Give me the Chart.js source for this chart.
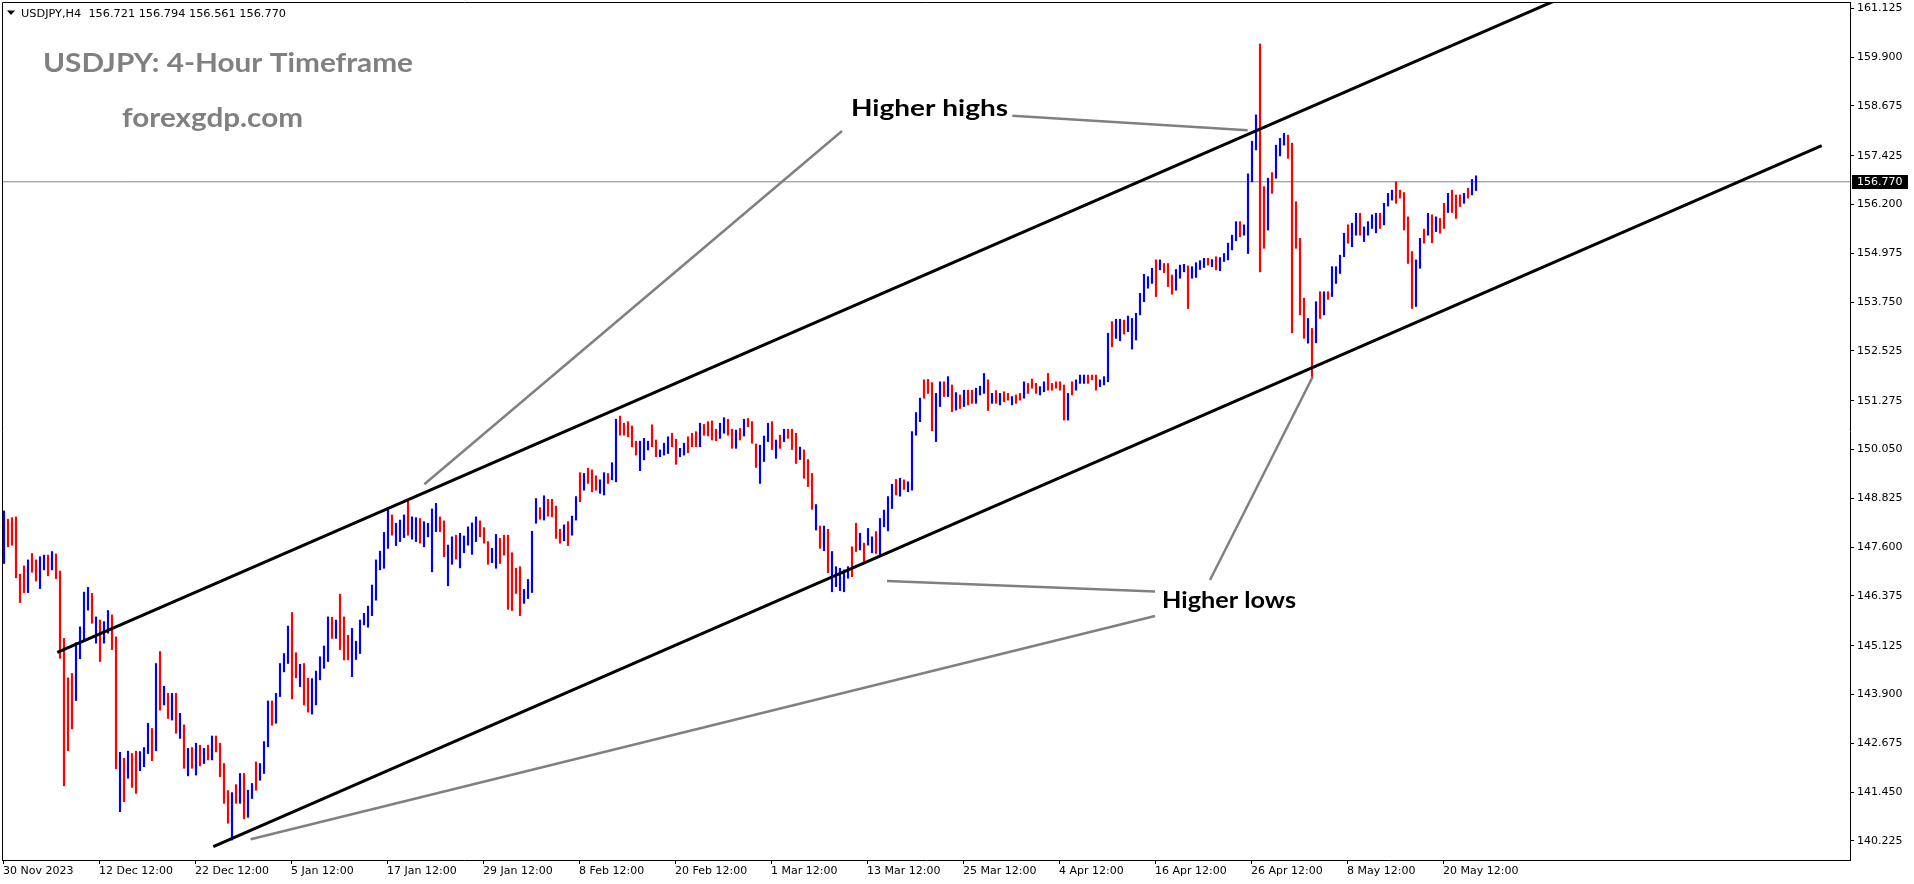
<!DOCTYPE html>
<html><head><meta charset="utf-8">
<script src="https://cdn.jsdelivr.net/npm/chart.js@4.4.1/dist/chart.umd.min.js"></script>
<style>html,body{margin:0;padding:0;background:#fff;overflow:hidden}</style>
</head><body>
<canvas id="c" width="1914" height="884"></canvas>
<script>
// ---------- DATA ----------
const symbol = "USDJPY,H4";
const lastBar = {open:156.721, high:156.794, low:156.561, close:156.770};
const titleText = "USDJPY: 4-Hour Timeframe";
const siteText = "forexgdp.com";
const noteHighs = "Higher highs";
const noteLows = "Higher lows";

// x values are counted in H4 bars from the first bar (30 Nov 2023)
const timeLabels = ["30 Nov 2023","12 Dec 12:00","22 Dec 12:00","5 Jan 12:00","17 Jan 12:00","29 Jan 12:00","8 Feb 12:00","20 Feb 12:00","1 Mar 12:00","13 Mar 12:00","25 Mar 12:00","4 Apr 12:00","16 Apr 12:00","26 Apr 12:00","8 May 12:00","20 May 12:00"];
const timeTickBars = [0,48,96,144,192,240,288,336,384,432,480,528,576,624,672,720];
const priceTicks = [140.225,141.450,142.675,143.900,145.125,146.375,147.600,148.825,150.050,151.275,152.525,153.750,154.975,156.200,157.425,158.675,159.900,161.125];

// one bar per 8 hours (two H4 bars merged): high, low, direction (u = up/blue, d = down/red)
const highs = [
148.51,148.30,148.34,148.36,146.92,147.13,147.28,147.44,147.28,147.36,
147.40,147.40,147.49,147.43,147.00,145.31,144.32,144.43,145.20,145.60,
146.47,146.59,146.44,145.85,145.77,145.73,146.01,145.90,145.35,142.45,
142.30,142.48,142.42,142.48,142.47,142.57,143.18,143.05,144.68,144.98,
144.11,143.93,143.93,143.93,143.43,143.14,142.55,142.57,142.68,142.63,
142.55,142.63,142.86,142.86,142.68,142.17,141.49,141.44,141.64,141.92,
141.92,141.50,141.67,142.21,142.17,142.72,143.74,143.74,143.93,144.68,
144.93,145.62,145.96,144.95,144.66,144.68,144.31,144.30,144.49,144.85,
145.12,145.85,145.84,145.77,146.42,145.85,145.39,145.56,145.24,145.77,
145.94,146.12,
146.65,147.28,147.50,147.97,148.59,148.41,148.20,148.28,
148.41,148.76,148.36,148.34,148.32,148.24,148.20,148.56,148.70,148.36,
148.26,147.65,147.86,147.90,147.95,147.88,148.11,148.21,148.36,148.26,
148.09,147.74,147.57,147.92,147.82,147.90,147.90,147.46,147.07,147.11,
146.54,146.79,148.00,148.82,148.59,148.89,148.80,148.80,148.63,148.05,
148.16,148.24,148.38,148.87,149.47,149.45,149.58,149.54,149.39,149.29,
149.47,149.45,149.72,150.81,150.89,150.71,150.75,150.64,150.26,150.26,
150.33,150.26,150.67,150.29,150.04,150.21,150.37,150.46,150.31,150.08,
150.21,150.37,150.46,150.50,150.71,150.68,150.75,150.77,150.56,150.71,
150.85,150.81,150.56,150.54,150.58,
150.81,150.83,150.75,150.19,150.16,150.39,150.71,150.75,150.29,150.41,
150.56,150.56,150.56,150.46,150.11,150.04,149.80,149.45,148.67,148.13,
148.13,148.05,147.49,147.11,147.07,147.03,147.11,147.61,148.20,147.95,
147.70,148.07,147.86,147.99,148.32,148.53,148.87,149.18,149.30,149.33,
149.29,149.24,150.50,150.98,151.34,151.80,151.81,151.73,151.46,151.75,
151.75,151.88,151.67,151.48,151.42,151.54,151.54,151.54,151.59,151.64,
151.96,151.80,151.46,151.53,151.46,151.50,151.46,151.38,151.42,151.46,
151.75,151.71,151.82,151.71,151.63,151.75,151.96,151.71,151.75,151.75,
151.67,151.46,151.75,151.80,151.92,151.92,151.92,151.92,151.92,151.80,
151.88,152.97,
153.26,153.32,153.32,153.30,153.40,153.34,153.47,153.97,154.45,154.39,
154.60,154.81,154.81,154.72,154.72,154.43,154.57,154.68,154.70,154.66,
154.64,154.74,154.79,154.85,154.85,154.82,154.89,154.87,154.97,155.23,
155.43,155.77,155.77,155.69,156.97,157.79,158.45,160.23,156.65,156.86,
157.00,157.69,157.86,157.99,157.94,157.74,156.27,155.35,153.85,153.34,
153.09,153.76,154.01,154.01,154.01,154.64,154.64,154.93,155.48,155.69,
155.73,155.98,155.98,155.64,155.77,155.94,155.98,155.98,156.23,156.48,
156.56,156.77,156.56,156.50,155.89,155.02,154.81,155.35,155.58,155.98,
155.94,155.89,155.85,156.23,156.48,156.56,156.44,156.44,156.48,156.61,
156.83,156.92];
const lows = [
147.19,147.61,147.65,146.83,146.21,146.46,146.46,146.97,146.75,146.56,
147.03,146.88,147.03,146.81,144.81,141.61,142.49,143.04,143.75,144.80,
145.27,146.02,145.69,145.19,144.73,145.19,145.44,145.03,142.04,140.96,
141.21,141.80,141.57,141.42,141.99,142.09,142.42,142.24,142.49,143.51,
143.64,143.30,143.26,142.93,142.80,142.05,141.86,142.05,141.88,142.11,
142.17,142.26,142.26,142.46,141.84,141.17,140.67,140.25,141.17,141.17,
140.78,140.82,141.29,141.50,141.75,141.92,142.59,143.13,143.18,143.85,
144.47,144.68,143.79,144.32,144.10,143.64,143.46,143.41,143.64,144.27,
144.56,144.73,145.31,145.31,145.03,144.77,144.77,144.35,144.78,144.93,
145.65,145.59,
145.88,146.27,147.03,147.07,147.57,147.90,147.64,147.74,
147.84,147.90,147.80,147.74,147.70,147.61,147.86,146.98,147.99,147.99,
147.36,146.63,147.17,147.30,147.08,147.46,147.65,147.42,147.74,147.86,
147.70,147.17,147.21,147.07,147.19,147.40,146.04,146.01,146.44,145.88,
146.19,146.31,146.46,148.20,148.30,148.28,148.38,148.36,147.82,147.70,
147.76,147.64,147.90,148.28,148.74,149.03,149.20,148.99,149.03,148.95,
148.91,149.20,149.29,149.24,150.41,150.41,150.37,150.12,149.91,149.52,
149.79,150.04,150.12,149.87,149.87,149.91,149.95,150.12,149.68,149.87,
149.91,149.97,150.12,150.12,150.12,150.41,150.39,150.29,150.27,150.33,
150.46,150.41,150.08,150.08,150.29,
150.39,150.62,150.21,149.60,149.20,149.75,150.25,150.05,149.83,150.08,
150.25,150.33,150.05,149.70,149.80,149.33,149.12,148.55,148.03,147.57,
147.51,146.96,146.48,146.61,146.51,146.48,146.82,146.86,147.49,147.53,
147.24,147.65,147.46,147.44,147.40,148.11,148.01,148.57,148.91,148.88,
149.05,148.99,149.03,150.41,150.75,151.34,151.46,150.52,150.25,151.13,
151.38,151.38,151.00,151.04,151.08,151.13,151.17,151.21,151.21,151.42,
151.46,151.03,151.21,151.21,151.17,151.25,151.29,151.17,151.21,151.29,
151.34,151.46,151.59,151.46,151.42,151.50,151.54,151.54,151.59,151.54,
150.79,150.79,151.42,151.54,151.71,151.71,151.71,151.80,151.54,151.63,
151.67,151.75,
152.63,152.84,152.78,152.95,153.01,152.57,152.80,153.43,153.76,154.10,
154.22,153.89,154.56,154.49,154.14,153.95,154.05,154.35,154.51,153.59,
154.35,154.37,154.57,154.62,154.68,154.64,154.56,154.54,154.77,154.81,
155.06,155.29,155.39,155.43,154.97,156.77,157.57,154.51,155.10,155.56,
156.48,156.86,157.42,157.69,157.36,152.98,155.10,153.43,152.84,152.72,
151.88,152.73,153.34,153.43,153.82,153.89,154.22,154.47,154.89,155.23,
155.14,155.43,155.43,155.27,155.43,155.60,155.49,155.60,155.69,156.16,
156.31,156.23,156.36,155.56,154.72,153.59,153.64,154.60,155.23,155.43,
155.24,155.52,155.48,155.60,156.00,156.00,155.85,156.15,156.23,156.36,
156.44,156.55];
const dirs =
"uddddduddu"+"ududdddduu"+"uududuuddu"+"dudduuudud"+"ududududud"+"ududdddudu"+"duuduuuduu"+"uuddudduuu"+"uududdduuu"+"uu"+
"uuuuuduu"+"uduuduuuud"+"duuduuuuud"+"dduudddddd"+"uuuududddd"+"uduududddu"+"uduudddddu"+"uudduuuddu"+"uddduddddu"+"uddud"+
"uddduuudud"+"udddudddud"+"uduuuuuddu"+"duuduuuudu"+"duuuuddduu"+"dudududduu"+"udududdudd"+"uddduudddd"+"duduuudddu"+"uu"+
"duuduuuuuu"+"ududdduuud"+"uuuududuuu"+"uuduuuuddu"+"duuudddddu"+"dududuuuud"+"uuduuuuduu"+"uddddduudu"+"duddudddud"+"uu";

// drawn objects, given as (bar, price) anchor pairs
const channelUpper = [[27.15,144.96],[800,161.84]];
const channelLower = [[105.15,140.081],[909.35,157.676]];
const pointerHighs = [[[419.5,158.045],[210.65,149.177]], [[504.65,158.429],[622.35,158.062]]];
const pointerLows = [[[654.85,151.878],[603.5,146.775]], [[442.0,146.75],[576.0,146.49]], [[123.85,140.267],[576.0,145.874]]];

// ---------- CHART ----------
const BLUE = '#0000FF', RED = '#FF0000';
const barData = highs.map((h, i) => ({x: 2*i + 0.5, y: [lows[i], h]}));
const barColors = dirs.split('').map(d => d === 'u' ? BLUE : RED);
const seg = (pts, color, w, order) => ({
  type: 'line', data: pts.map(p => ({x: p[0], y: p[1]})), borderColor: color, borderWidth: w,
  pointRadius: 0, fill: false, tension: 0, order: order, borderCapStyle: 'butt'
});
const datasets = [
  {type: 'bar', data: barData, backgroundColor: barColors, barThickness: 1.5, borderWidth: 0, grouped: false, order: 5},
  seg([[-0.5, lastBar.close], [923.5, lastBar.close]], '#778899', 1, 6),
  seg(channelUpper, '#000', 3, 1),
  seg(channelLower, '#000', 3, 1)
];
pointerHighs.concat(pointerLows).forEach(p => datasets.push(seg(p, '#808080', 2.5, 2)));

function drawFit(ctx, text, x, baseline, font, color, targetW) {
  ctx.save();
  ctx.font = font; ctx.fillStyle = color; ctx.textAlign = 'left'; ctx.textBaseline = 'alphabetic';
  const w = ctx.measureText(text).width;
  ctx.translate(x, baseline);
  if (targetW) ctx.scale(targetW / w, 1);
  ctx.fillText(text, 0, 0);
  ctx.restore();
}

const decor = {
  id: 'decor',
  afterDraw(chart) {
    const ctx = chart.ctx, a = chart.chartArea;
    ctx.save();
    ctx.strokeStyle = '#000'; ctx.lineWidth = 1;
    ctx.beginPath();
    ctx.moveTo(a.left + 0.5, a.bottom); ctx.lineTo(a.left + 0.5, a.top + 0.5); ctx.lineTo(a.right, a.top + 0.5);
    ctx.stroke();
    // header
    ctx.fillStyle = '#000';
    ctx.beginPath(); ctx.moveTo(7, 10.5); ctx.lineTo(15, 10.5); ctx.lineTo(11, 15); ctx.closePath(); ctx.fill();
    const hdr = symbol + '  ' + [lastBar.open, lastBar.high, lastBar.low, lastBar.close].map(v => v.toFixed(3)).join(' ');
    drawFit(ctx, hdr, 21, 17, '11px "DejaVu Sans"', '#000', 265);
    // titles
    drawFit(ctx, titleText, 43, 72, 'bold 26px Lato', '#808080', 370);
    drawFit(ctx, siteText, 122, 127, 'bold 26px Lato', '#808080', 181);
    drawFit(ctx, noteHighs, 851, 116, 'bold 22px Lato', '#000', 157);
    drawFit(ctx, noteLows, 1162, 608, 'bold 22px Lato', '#000', 134);
    // current price box
    const py = Math.round(chart.scales.y.getPixelForValue(lastBar.close));
    ctx.fillStyle = '#000';
    ctx.fillRect(a.right + 2, py - 7, 56, 14);
    ctx.fillStyle = '#fff'; ctx.font = '11px "DejaVu Sans"'; ctx.textBaseline = 'middle'; ctx.textAlign = 'left';
    ctx.fillText(lastBar.close.toFixed(3), a.right + 7, py + 0.5);
    ctx.restore();
  }
};

new Chart(document.getElementById('c'), {
  type: 'bar',
  data: {datasets},
  plugins: [decor],
  options: {
    responsive: false, animation: false, devicePixelRatio: 1,
    layout: {padding: {left: 2, top: 2, right: 0, bottom: 0}},
    plugins: {legend: {display: false}, tooltip: {enabled: false}, title: {display: false}},
    scales: {
      x: {
        type: 'linear', min: -0.5, max: 923.5, offset: false, position: 'bottom',
        grid: {display: true, drawOnChartArea: false, drawTicks: true, tickLength: 4, tickColor: '#000', offset: false},
        border: {display: true, color: '#000', width: 1},
        ticks: {autoSkip: false, maxRotation: 0, minRotation: 0, align: 'start', padding: 1, color: '#000',
          font: {family: 'DejaVu Sans', size: 11},
          callback: v => { const i = timeTickBars.indexOf(v); return i >= 0 ? timeLabels[i] : ''; }},
        afterBuildTicks: s => { s.ticks = timeTickBars.map(v => ({value: v})); },
        afterFit: s => { s.height = 24; s.paddingLeft = 0; s.paddingRight = 0; s.paddingTop = 0; s.paddingBottom = 0; }
      },
      y: {
        type: 'linear', position: 'right', min: 139.748, max: 161.283, beginAtZero: false,
        grid: {display: true, drawOnChartArea: false, drawTicks: true, tickLength: 4, tickColor: '#000'},
        border: {display: true, color: '#000', width: 1},
        ticks: {padding: 3, color: '#000', font: {family: 'DejaVu Sans', size: 11}, callback: v => Number(v).toFixed(3)},
        afterBuildTicks: s => { s.ticks = priceTicks.map(v => ({value: v})); },
        afterFit: s => { s.width = 64; s.paddingTop = 0; s.paddingBottom = 0; s.paddingLeft = 0; s.paddingRight = 0; }
      }
    }
  }
});
</script>
</body></html>
